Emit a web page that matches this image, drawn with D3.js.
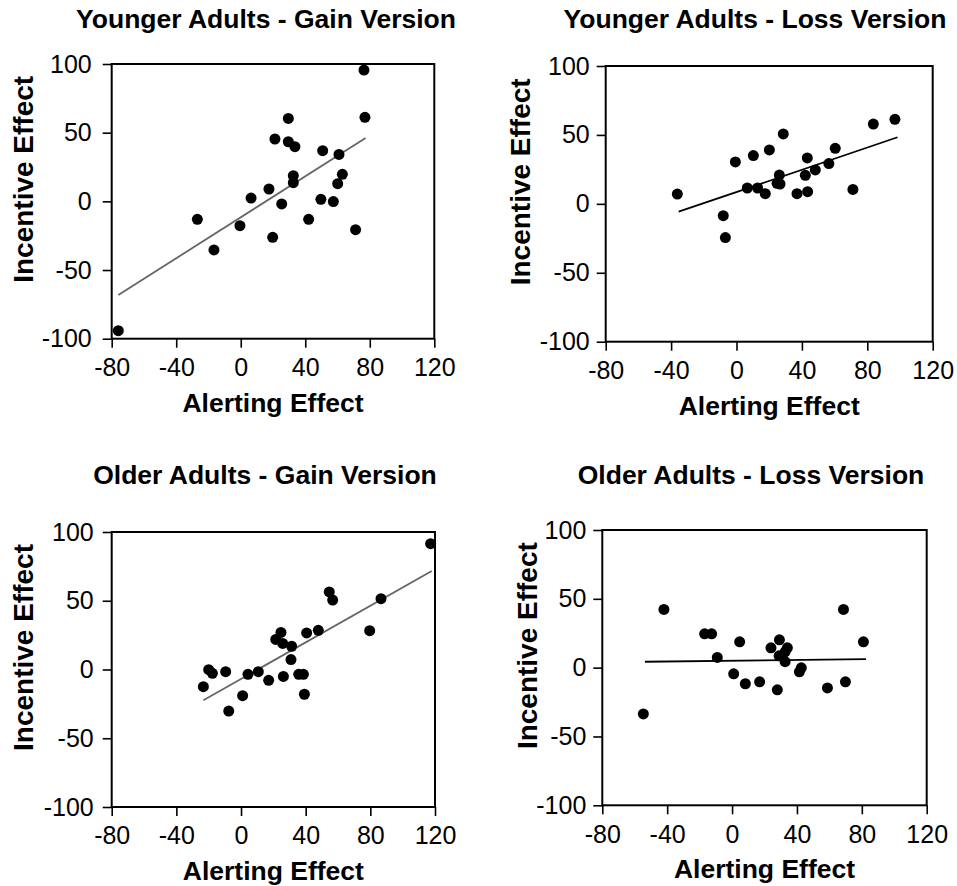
<!DOCTYPE html>
<html>
<head>
<meta charset="utf-8">
<script src="https://cdn.jsdelivr.net/npm/d3@7"></script>
<style>
  body { margin: 0; background: #fff; }
  svg text { font-family: "Liberation Sans", Arial, sans-serif; fill: #000; }
</style>
</head>
<body>
<div id="chart"></div>
<script>
// ---- data ----
const titles = [
  "Younger Adults - Gain Version",
  "Younger Adults - Loss Version",
  "Older Adults - Gain Version",
  "Older Adults - Loss Version"
]
const xTicks = [-80, -40, 0, 40, 80, 120]
const yTicks = [-100, -50, 0, 50, 100]

// younger, gain
const ygAlert = [76.4, 77.0, 29.5, 21.2, 29.5, 33.6, 50.8, 60.9, 32.6, 63.0, 32.6, 60.1, 17.5, 6.4, 25.4, 49.7, 57.4, -26.9, 42.1, -0.5, 19.8, 71.2, -16.6, -75.9]
const ygIncent = [95.6, 61.2, 60.4, 45.4, 43.4, 39.8, 36.9, 34.2, 18.7, 19.7, 13.6, 12.9, 9.0, 2.4, -1.9, 1.5, -0.2, -13.1, -13.1, -17.7, -26.2, -20.6, -35.4, -94.2]
// younger, loss
const ylAlert = [-36.2, -8.1, -6.8, -0.7, 10.3, 20.1, 28.6, 6.6, 12.9, 17.6, 26.2, 24.8, 26.6, 37.0, 43.5, 42.1, 43.3, 48.2, 56.5, 60.4, 71.2, 83.7, 96.9]
const ylIncent = [7.1, -8.6, -24.5, 30.4, 35.0, 39.1, 50.7, 11.5, 11.5, 7.4, 20.9, 14.9, 14.4, 7.4, 8.8, 20.7, 33.3, 24.6, 29.2, 40.3, 10.5, 57.9, 61.3]
// older, gain
const ogAlert = [117.3, 54.6, 56.7, 86.6, 79.6, 47.8, 40.6, 24.7, 21.5, 25.8, 31.3, 30.9, -20.0, -17.7, -9.5, 4.3, 10.7, 17.1, 26.2, 35.7, 38.6, 39.2, -23.3, 1.0, -7.6]
const ogIncent = [91.5, 56.4, 50.5, 51.5, 28.2, 28.5, 26.6, 27.0, 21.9, 19.0, 16.9, 7.2, -0.1, -2.8, -1.6, -3.5, -1.6, -7.9, -5.0, -3.5, -3.5, -18.0, -12.5, -19.0, -30.2]
// older, loss
const olAlert = [-54.7, -42.0, -16.9, -12.6, -9.1, 4.7, 1.0, 8.2, 17.0, 27.9, 24.0, 29.2, 34.1, 32.7, 29.0, 32.7, 42.7, 41.5, 58.8, 68.7, 69.9, 81.0]
const olIncent = [-33.6, 42.3, 24.6, 24.6, 7.4, 18.8, -4.5, -11.7, -10.3, -16.1, 14.4, 20.2, 14.4, 11.5, 8.6, 4.3, -0.1, -3.0, -14.7, 42.3, -10.3, 18.8]

// fitted lines as drawn: [x1, y1, x2, y2]
const fitLines = [
  [-75.9, -68.2, 77.4, 46.1],
  [-35.4, -5.7, 98.5, 48.3],
  [-23.3, -22.4, 118.0, 71.6],
  [-53.7, 4.3, 82.6, 6.2]
]

const alertSets = [ygAlert, ylAlert, ogAlert, olAlert]
const incentSets = [ygIncent, ylIncent, ogIncent, olIncent]

// ---- layout ----
const width = 957
const height = 886
const frames = [
  { left: 111.7, top: 64, w: 322.6, h: 274.7, titleX: 266, titleY: 28, yLabX: 33, labGap: 20, fit: '#666' },
  { left: 605.7, top: 66, w: 327.0, h: 275.7, titleX: 755, titleY: 28, yLabX: 530, labGap: 16, fit: '#000' },
  { left: 111.7, top: 532, w: 323.3, h: 275, titleX: 265, titleY: 484, yLabX: 33, labGap: 18, fit: '#666' },
  { left: 602.3, top: 530, w: 324.4, h: 275.3, titleX: 751, titleY: 484, yLabX: 537, labGap: 16, fit: '#000' }
]

const svg = d3.select('#chart')
  .append('svg')
    .attr('width', width)
    .attr('height', height)

frames.forEach((f, i) => {
  const g = svg.append('g')
    .attr('transform', 'translate(' + f.left + ',' + f.top + ')')

  const x = d3.scaleLinear().domain([-80, 120]).range([0, f.w])
  const y = d3.scaleLinear().domain([-100, 100]).range([f.h, 0])

  // x axis
  const xa = g.append('g')
    .attr('transform', 'translate(0,' + f.h + ')')
    .call(d3.axisBottom(x).tickValues(xTicks).tickSize(9).tickPadding(5).tickFormat(d3.format('d')))
  // y axis
  const ya = g.append('g')
    .call(d3.axisLeft(y).tickValues(yTicks).tickSize(9).tickPadding(f.labGap - 9).tickFormat(d3.format('d')))

  ;[xa, ya].forEach(a => {
    a.select('.domain').remove()
    a.selectAll('line').attr('stroke', '#000').attr('stroke-width', 1.6)
    a.selectAll('text')
      .style('font-size', '25px')
      .text(d => String(d).replace('\u2212', '-'))
  })
  xa.selectAll('text').attr('dy', '0.93em')

  // frame
  g.append('rect')
    .attr('x', 0).attr('y', 0)
    .attr('width', f.w).attr('height', f.h)
    .attr('fill', 'none')
    .attr('stroke', '#000')
    .attr('stroke-width', 2)

  // fit line
  const fl = fitLines[i]
  g.append('line')
    .attr('x1', x(fl[0])).attr('y1', y(fl[1]))
    .attr('x2', x(fl[2])).attr('y2', y(fl[3]))
    .attr('stroke', f.fit)
    .attr('stroke-width', 1.8)

  // points
  const pts = alertSets[i].map((a, k) => ({ a: a, b: incentSets[i][k] }))
  g.selectAll('circle')
    .data(pts)
    .enter()
    .append('circle')
      .attr('cx', d => x(d.a))
      .attr('cy', d => y(d.b))
      .attr('r', 5.5)
      .attr('fill', '#000')

  // titles
  svg.append('text')
    .attr('x', f.titleX)
    .attr('y', f.titleY)
    .attr('text-anchor', 'middle')
    .style('font-size', '26.5px')
    .style('font-weight', 'bold')
    .text(titles[i])

  svg.append('text')
    .attr('x', f.left + f.w / 2)
    .attr('y', f.top + f.h + 73)
    .attr('text-anchor', 'middle')
    .style('font-size', '26.5px')
    .style('font-weight', 'bold')
    .text('Alerting Effect')

  const cy = f.top + f.h / 2 - 22
  svg.append('text')
    .attr('transform', 'translate(' + f.yLabX + ',' + cy + ') rotate(-90)')
    .attr('text-anchor', 'middle')
    .style('font-size', '28px')
    .style('font-weight', 'bold')
    .text('Incentive Effect')
})
</script>
</body>
</html>
